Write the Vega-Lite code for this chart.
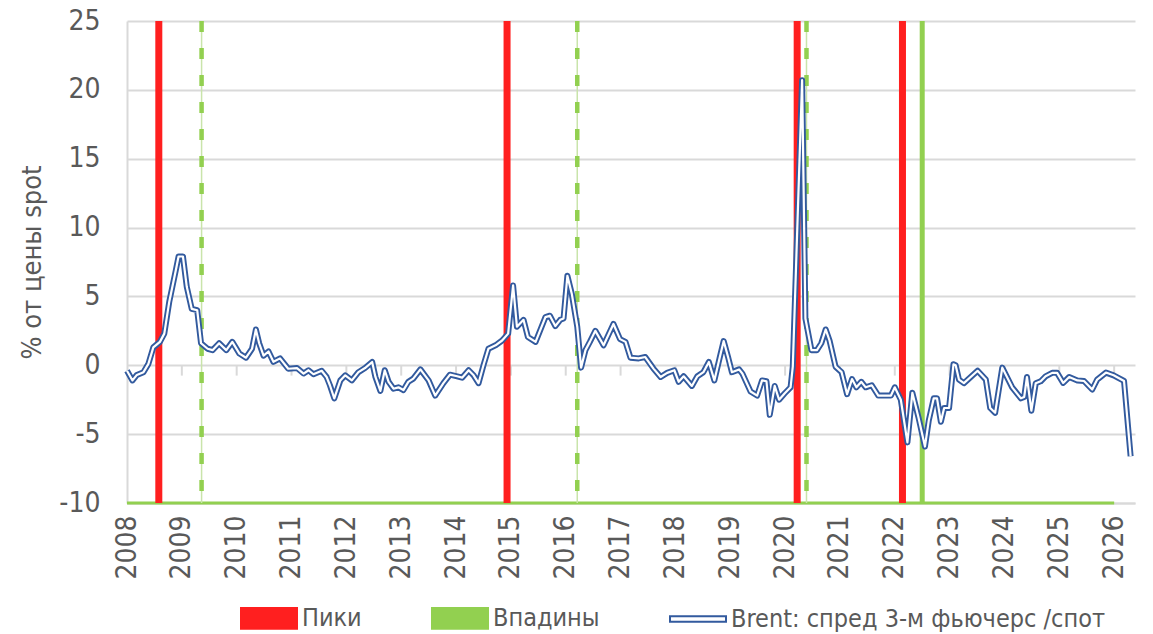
{
  "$schema": "https://vega.github.io/schema/vega-lite/v6.json",
  "width": 1008,
  "height": 482,
  "autosize": {"type": "none"},
  "padding": {"left": 127, "top": 21, "right": 18, "bottom": 131},
  "background": "white",
  "config": {"view": {"stroke": null}, "font": "DejaVu Sans Condensed, sans-serif"},
  "datasets": {
    "brent": [
      {"date": 2008.00, "v": -0.4}, {"date": 2008.10, "v": -1.1}, {"date": 2008.18, "v": -0.7}, {"date": 2008.30, "v": -0.5},
      {"date": 2008.39, "v": 0.1}, {"date": 2008.48, "v": 1.3}, {"date": 2008.60, "v": 1.7}, {"date": 2008.68, "v": 2.3},
      {"date": 2008.77, "v": 4.6}, {"date": 2008.89, "v": 6.9}, {"date": 2008.94, "v": 7.9}, {"date": 2009.02, "v": 7.9},
      {"date": 2009.09, "v": 5.7}, {"date": 2009.18, "v": 4.1}, {"date": 2009.28, "v": 4.0}, {"date": 2009.35, "v": 1.6},
      {"date": 2009.47, "v": 1.2}, {"date": 2009.56, "v": 1.1}, {"date": 2009.68, "v": 1.6}, {"date": 2009.81, "v": 1.1},
      {"date": 2009.92, "v": 1.7}, {"date": 2010.05, "v": 0.85}, {"date": 2010.17, "v": 0.55}, {"date": 2010.28, "v": 1.2},
      {"date": 2010.35, "v": 2.6}, {"date": 2010.41, "v": 1.6}, {"date": 2010.49, "v": 0.7}, {"date": 2010.58, "v": 1.0},
      {"date": 2010.67, "v": 0.25}, {"date": 2010.79, "v": 0.5}, {"date": 2010.94, "v": -0.25}, {"date": 2011.10, "v": -0.2},
      {"date": 2011.22, "v": -0.6}, {"date": 2011.31, "v": -0.36}, {"date": 2011.40, "v": -0.65}, {"date": 2011.55, "v": -0.4},
      {"date": 2011.64, "v": -0.85}, {"date": 2011.70, "v": -1.45}, {"date": 2011.78, "v": -2.4}, {"date": 2011.89, "v": -1.1},
      {"date": 2011.98, "v": -0.73}, {"date": 2012.10, "v": -1.1}, {"date": 2012.22, "v": -0.5}, {"date": 2012.34, "v": -0.2},
      {"date": 2012.47, "v": 0.24}, {"date": 2012.53, "v": -0.85}, {"date": 2012.62, "v": -1.86}, {"date": 2012.70, "v": -0.36},
      {"date": 2012.77, "v": -1.2}, {"date": 2012.86, "v": -1.7}, {"date": 2012.95, "v": -1.6}, {"date": 2013.04, "v": -1.8},
      {"date": 2013.13, "v": -1.2}, {"date": 2013.22, "v": -0.97}, {"date": 2013.35, "v": -0.3}, {"date": 2013.50, "v": -1.1},
      {"date": 2013.62, "v": -2.2}, {"date": 2013.77, "v": -1.3}, {"date": 2013.89, "v": -0.68}, {"date": 2014.02, "v": -0.8},
      {"date": 2014.11, "v": -0.9}, {"date": 2014.23, "v": -0.36}, {"date": 2014.32, "v": -0.73}, {"date": 2014.41, "v": -1.3},
      {"date": 2014.50, "v": 0.0}, {"date": 2014.59, "v": 1.2}, {"date": 2014.72, "v": 1.45}, {"date": 2014.84, "v": 1.8},
      {"date": 2014.95, "v": 2.3}, {"date": 2015.04, "v": 5.8}, {"date": 2015.11, "v": 2.8}, {"date": 2015.23, "v": 3.3},
      {"date": 2015.31, "v": 2.05}, {"date": 2015.45, "v": 1.7}, {"date": 2015.63, "v": 3.5}, {"date": 2015.71, "v": 3.6},
      {"date": 2015.81, "v": 2.85}, {"date": 2015.90, "v": 3.3}, {"date": 2015.96, "v": 3.4}, {"date": 2016.03, "v": 6.5},
      {"date": 2016.11, "v": 5.2}, {"date": 2016.21, "v": 2.8}, {"date": 2016.28, "v": -0.17}, {"date": 2016.36, "v": 1.1},
      {"date": 2016.44, "v": 1.7}, {"date": 2016.54, "v": 2.5}, {"date": 2016.69, "v": 1.45}, {"date": 2016.87, "v": 3.0},
      {"date": 2016.99, "v": 1.9}, {"date": 2017.09, "v": 1.7}, {"date": 2017.18, "v": 0.55}, {"date": 2017.33, "v": 0.5},
      {"date": 2017.45, "v": 0.6}, {"date": 2017.60, "v": -0.24}, {"date": 2017.73, "v": -0.85}, {"date": 2017.85, "v": -0.55},
      {"date": 2017.98, "v": -0.36}, {"date": 2018.06, "v": -1.2}, {"date": 2018.15, "v": -0.8}, {"date": 2018.30, "v": -1.5},
      {"date": 2018.40, "v": -0.8}, {"date": 2018.51, "v": -0.5}, {"date": 2018.61, "v": 0.24}, {"date": 2018.71, "v": -1.1},
      {"date": 2018.81, "v": 0.6}, {"date": 2018.88, "v": 1.76}, {"date": 2018.96, "v": 0.6}, {"date": 2019.03, "v": -0.5},
      {"date": 2019.16, "v": -0.3}, {"date": 2019.22, "v": -0.6}, {"date": 2019.37, "v": -1.9}, {"date": 2019.49, "v": -2.2},
      {"date": 2019.58, "v": -1.1}, {"date": 2019.66, "v": -1.16}, {"date": 2019.72, "v": -3.6}, {"date": 2019.81, "v": -1.5},
      {"date": 2019.89, "v": -2.5}, {"date": 2019.99, "v": -2.05}, {"date": 2020.10, "v": -1.6}, {"date": 2020.14, "v": -0.1},
      {"date": 2020.31, "v": 20.7}, {"date": 2020.37, "v": 3.4}, {"date": 2020.48, "v": 1.1}, {"date": 2020.58, "v": 1.1},
      {"date": 2020.66, "v": 1.6}, {"date": 2020.74, "v": 2.6}, {"date": 2020.81, "v": 1.8}, {"date": 2020.92, "v": -0.1},
      {"date": 2021.03, "v": -0.5}, {"date": 2021.13, "v": -2.1}, {"date": 2021.22, "v": -1.0}, {"date": 2021.30, "v": -1.6},
      {"date": 2021.39, "v": -1.2}, {"date": 2021.47, "v": -1.6}, {"date": 2021.58, "v": -1.45}, {"date": 2021.70, "v": -2.2},
      {"date": 2021.93, "v": -2.2}, {"date": 2022.00, "v": -1.6}, {"date": 2022.11, "v": -2.5}, {"date": 2022.23, "v": -5.6},
      {"date": 2022.32, "v": -2.0}, {"date": 2022.43, "v": -3.75}, {"date": 2022.55, "v": -5.9}, {"date": 2022.62, "v": -4.0},
      {"date": 2022.71, "v": -2.4}, {"date": 2022.77, "v": -2.4}, {"date": 2022.84, "v": -4.1}, {"date": 2022.90, "v": -3.1},
      {"date": 2022.99, "v": -3.1}, {"date": 2023.07, "v": 0.07}, {"date": 2023.11, "v": 0.0}, {"date": 2023.17, "v": -1.04},
      {"date": 2023.26, "v": -1.3}, {"date": 2023.51, "v": -0.4}, {"date": 2023.66, "v": -1.04}, {"date": 2023.74, "v": -3.1},
      {"date": 2023.83, "v": -3.45}, {"date": 2023.96, "v": -0.17}, {"date": 2024.14, "v": -1.6}, {"date": 2024.30, "v": -2.4},
      {"date": 2024.36, "v": -2.3}, {"date": 2024.41, "v": -0.85}, {"date": 2024.49, "v": -3.3}, {"date": 2024.57, "v": -1.3},
      {"date": 2024.66, "v": -1.16}, {"date": 2024.75, "v": -0.8}, {"date": 2024.87, "v": -0.55}, {"date": 2024.96, "v": -0.55},
      {"date": 2025.07, "v": -1.28}, {"date": 2025.18, "v": -0.85}, {"date": 2025.33, "v": -1.1}, {"date": 2025.45, "v": -1.14},
      {"date": 2025.60, "v": -1.76}, {"date": 2025.69, "v": -1.04}, {"date": 2025.85, "v": -0.53}, {"date": 2025.99, "v": -0.73},
      {"date": 2026.18, "v": -1.14}, {"date": 2026.30, "v": -6.6}
    ],
    "events": [
      {"date": 2008.58, "type": "Пики"}, {"date": 2014.93, "type": "Пики"}, {"date": 2020.22, "type": "Пики"}, {"date": 2022.14, "type": "Пики"},
      {"date": 2009.36, "type": "Впадины"}, {"date": 2016.21, "type": "Впадины"}, {"date": 2020.39, "type": "Впадины"}, {"date": 2022.50, "type": "Впадины"}
    ],
    "years": [
      {"date": 2009}, {"date": 2010}, {"date": 2011}, {"date": 2012}, {"date": 2013}, {"date": 2014}, {"date": 2015}, {"date": 2016}, {"date": 2017},
      {"date": 2018}, {"date": 2019}, {"date": 2020}, {"date": 2021}, {"date": 2022}, {"date": 2023}, {"date": 2024}, {"date": 2025}, {"date": 2026}
    ],
    "base": [{"date": 2008, "end": 2026}]
  },
  "encoding": {
    "x": {
      "field": "date", "type": "quantitative",
      "scale": {"domain": [2008, 2026.38], "nice": false, "zero": false},
      "axis": {
        "values": [2008, 2009, 2010, 2011, 2012, 2013, 2014, 2015, 2016, 2017, 2018, 2019, 2020, 2021, 2022, 2023, 2024, 2025, 2026],
        "format": "d", "labelAngle": -90, "ticks": false, "grid": false,
        "domain": true, "domainColor": "#D9D9D9", "domainWidth": 2,
        "labelPadding": 12, "labelFontSize": 28, "labelColor": "#595959",
        "labelFlush": false, "labelOverlap": false, "title": null
      }
    }
  },
  "layer": [
    {
      "data": {"name": "brent"},
      "mark": {"type": "line", "opacity": 0},
      "encoding": {
        "y": {
          "field": "v", "type": "quantitative",
          "scale": {"domain": [-10, 25], "nice": false, "zero": false},
          "axis": {
            "values": [-10, -5, 0, 5, 10, 15, 20, 25],
            "labelExpr": "'' + datum.value",
            "grid": true, "gridColor": "#D9D9D9", "gridWidth": 2,
            "ticks": false, "domain": true, "domainColor": "#D9D9D9", "domainWidth": 2,
            "labelPadding": 27, "labelFontSize": 28, "labelColor": "#595959",
            "title": "% от цены spot", "titleFontSize": 27, "titleColor": "#595959",
            "titleFontWeight": "normal", "titlePadding": 12
          }
        }
      }
    },
    {
      "data": {"name": "years"},
      "mark": {"type": "rule", "color": "#D9D9D9", "strokeWidth": 2},
      "encoding": {
        "y": {"datum": 0, "type": "quantitative"},
        "y2": {"datum": -0.75}
      }
    },
    {
      "data": {"name": "base"},
      "mark": {"type": "rule", "color": "#92D050", "strokeWidth": 3},
      "encoding": {
        "x2": {"field": "end"},
        "y": {"datum": -10, "type": "quantitative"}
      }
    },
    {
      "data": {"name": "events"},
      "transform": [{"filter": "datum.type === 'Пики'"}],
      "mark": {"type": "rule", "strokeWidth": 7},
      "encoding": {
        "color": {
          "field": "type", "type": "nominal",
          "scale": {"domain": ["Пики", "Впадины", "Brent: спред 3-м фьючерс /спот"], "range": ["#FF1F1F", "#92D050", "#325A9E"]},
          "legend": {
            "title": null, "orient": "none", "legendX": 113, "legendY": 568, "direction": "horizontal",
            "symbolSize": 3136, "symbolType": "M-1,-0.37H1V0.37H-1Z",
            "labelFontSize": 25, "labelColor": "#595959", "labelOffset": 4, "columnPadding": 66, "labelLimit": 800,
            "symbolStrokeWidth": 2,
            "encode": {
              "symbols": {
                "update": {
                  "shape": {"signal": "datum.value === 'Brent: спред 3-м фьючерс /спот' ? 'M-1,-0.1H1V0.1H-1Z' : 'M-1,-0.37H1V0.37H-1Z'"},
                  "fill": {"signal": "datum.value === 'Пики' ? '#FF1F1F' : (datum.value === 'Впадины' ? '#92D050' : '#FFFFFF')"},
                  "stroke": {"signal": "datum.value === 'Пики' ? '#FF1F1F' : (datum.value === 'Впадины' ? '#92D050' : '#325A9E')"},
                  "strokeWidth": {"value": 2},
                  "strokeDash": {"value": []},
                  "opacity": {"value": 1},
                  "fillOpacity": {"value": 1}
                }
              }
            }
          }
        }
      }
    },
    {
      "data": {"name": "events"},
      "transform": [{"filter": "datum.type === 'Впадины' && datum.date < 2022"}],
      "mark": {"type": "rule", "color": "#C9E4AA", "strokeWidth": 1.5},
      "encoding": {}
    },
    {
      "data": {"name": "events"},
      "transform": [{"filter": "datum.type === 'Впадины' && datum.date < 2022"}],
      "mark": {"type": "rule", "strokeWidth": 4.5, "strokeDash": [11, 16]},
      "encoding": {
        "color": {"field": "type", "type": "nominal", "legend": null}
      }
    },
    {
      "data": {"name": "events"},
      "transform": [{"filter": "datum.type === 'Впадины' && datum.date > 2022"}],
      "mark": {"type": "rule", "strokeWidth": 5},
      "encoding": {
        "color": {"field": "type", "type": "nominal", "legend": null}
      }
    },
    {
      "data": {"name": "brent"},
      "mark": {"type": "line", "strokeWidth": 6, "strokeJoin": "round"},
      "encoding": {
        "y": {"field": "v", "type": "quantitative"},
        "color": {"datum": "Brent: спред 3-м фьючерс /спот", "legend": null}
      }
    },
    {
      "data": {"name": "brent"},
      "mark": {"type": "line", "strokeWidth": 2.2, "color": "#FFFFFF", "strokeJoin": "round"},
      "encoding": {
        "y": {"field": "v", "type": "quantitative"}
      }
    }
  ]
}
